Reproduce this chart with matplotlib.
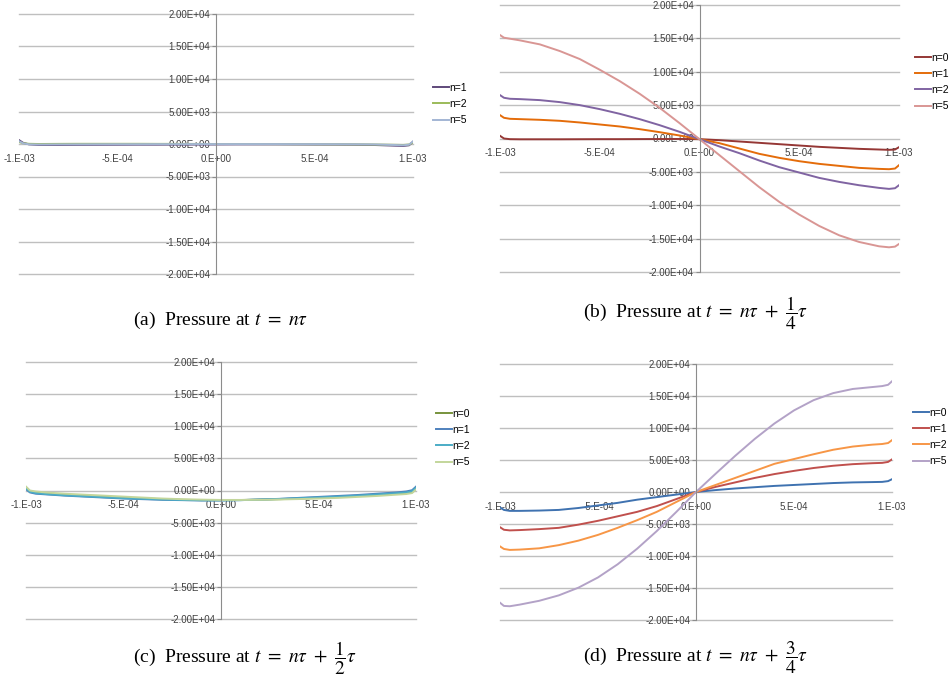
import matplotlib
matplotlib.use('Agg')
import matplotlib.pyplot as plt
from matplotlib.ticker import FuncFormatter

plt.rcParams['font.family'] = ['Liberation Sans Narrow', 'Liberation Sans', 'DejaVu Sans']
plt.rcParams['mathtext.fontset'] = 'stix'

# position (m) and pressure values
x_pos = [-1.0e-3, -9.8e-4, -9.5e-4, -9.0e-4, -8.0e-4, -7.0e-4, -6.0e-4, -5.0e-4, -4.0e-4,
         -3.0e-4, -2.0e-4, -1.0e-4, 0.0, 1.0e-4, 2.0e-4, 3.0e-4, 4.0e-4, 5.0e-4, 6.0e-4,
         7.0e-4, 8.0e-4, 9.0e-4, 9.5e-4, 9.8e-4, 1.0e-3]

x_ticks = [-1e-3, -5e-4, 0.0, 5e-4, 1e-3]
y_ticks = [-20000, -15000, -10000, -5000, 0, 5000, 10000, 15000, 20000]

# (a) t = n tau
a_names = ['n=1', 'n=2', 'n=5']
a_n1 = [600, 200, -50, -150, -150, -130, -120, -110, -100, -100, -90, -80, -70, -60, -60, -60, -70, -80, -90, -110, -150, -250, -300, -200, 350]
a_n2 = [300, 120, 30, 0, 20, 30, 30, 30, 30, 20, 20, 10, 0, 0, -10, -20, -30, -40, -50, -60, -80, -120, -150, -80, 250]
a_n5 = [450, 100, -50, -80, -60, -50, -40, -30, -30, -20, -20, -10, -10, -10, -10, -10, -20, -20, -30, -40, -60, -150, -200, -100, 400]

# (b) t = n tau + tau/4
b_names = ['n=0', 'n=1', 'n=2', 'n=5']
b_n0 = [400, 0, -100, -120, -120, -120, -110, -100, -100, -90, -80, -70, -100, -250, -450, -650, -850, -1050, -1250, -1400, -1550, -1650, -1700, -1650, -1300]
b_n1 = [3500, 3100, 2950, 2900, 2800, 2650, 2400, 2100, 1800, 1400, 950, 450, -100, -700, -1500, -2300, -2900, -3400, -3800, -4100, -4400, -4550, -4600, -4500, -4000]
b_n2 = [6500, 6100, 5950, 5900, 5750, 5450, 5000, 4400, 3700, 2900, 2000, 1000, -100, -1200, -2200, -3300, -4300, -5100, -5900, -6500, -7000, -7400, -7550, -7450, -7000]
b_n5 = [15500, 15100, 14950, 14700, 14100, 13100, 11900, 10300, 8600, 6700, 4600, 2300, -100, -2500, -4900, -7300, -9500, -11400, -13100, -14500, -15500, -16150, -16300, -16200, -15800]

# (c) t = n tau + tau/2
c_names = ['n=0', 'n=1', 'n=2', 'n=5']
c_n0 = [500, -100, -300, -450, -650, -800, -950, -1100, -1250, -1350, -1450, -1500, -1500, -1480, -1420, -1350, -1250, -1150, -1000, -850, -700, -500, -400, -250, 300]
c_n1 = [200, -300, -500, -600, -800, -950, -1100, -1250, -1350, -1450, -1500, -1550, -1550, -1500, -1400, -1300, -1150, -1000, -850, -700, -500, -300, -150, 50, 600]
c_n2 = [350, -200, -400, -550, -750, -900, -1050, -1200, -1300, -1400, -1480, -1520, -1530, -1500, -1420, -1320, -1200, -1080, -950, -800, -620, -420, -300, -120, 450]
c_n5 = [600, 0, -150, -300, -500, -650, -800, -950, -1100, -1250, -1350, -1420, -1470, -1470, -1450, -1400, -1330, -1250, -1150, -1000, -850, -650, -550, -400, 150]

# (d) t = n tau + 3 tau/4
d_names = ['n=0', 'n=1', 'n=2', 'n=5']
d_n0 = [-2400, -2800, -2950, -2950, -2900, -2800, -2500, -2100, -1700, -1200, -800, -400, 0, 300, 550, 750, 950, 1100, 1250, 1400, 1500, 1550, 1580, 1700, 2000]
d_n1 = [-5500, -5900, -6000, -5950, -5800, -5600, -5100, -4500, -3800, -3100, -2200, -1100, 0, 800, 1500, 2200, 2800, 3300, 3750, 4100, 4350, 4500, 4550, 4700, 5100]
d_n2 = [-8500, -8900, -9050, -9000, -8800, -8300, -7600, -6700, -5600, -4400, -3100, -1550, 0, 1100, 2200, 3300, 4400, 5150, 5900, 6600, 7100, 7400, 7500, 7650, 8100]
d_n5 = [-17300, -17800, -17850, -17600, -17000, -16150, -14950, -13350, -11300, -8850, -6100, -3100, 0, 2850, 5650, 8300, 10700, 12750, 14350, 15450, 16100, 16400, 16550, 16750, 17300]

W, H = 949.0, 679.0
fig = plt.figure(figsize=(9.49, 6.79), dpi=100)


def draw_panel(box, series, names, colors, leg_pos, caption, cap_pos):
    x0, y0, x1, y1 = box
    ax = fig.add_axes([x0 / W, 1 - y1 / H, (x1 - x0) / W, (y1 - y0) / H])
    for vals, name, c in zip(series, names, colors):
        ax.plot(x_pos, vals, color=c, lw=1.4, label=name)
    ax.set_xlim(-1e-3, 1e-3)
    ax.set_ylim(-2e4, 2e4)
    ax.set_xticks(x_ticks)
    ax.set_yticks(y_ticks)
    ax.xaxis.set_major_formatter(FuncFormatter(lambda v, p: '%#.0E' % v))
    ax.yaxis.set_major_formatter(FuncFormatter(lambda v, p: '%.2E' % v))
    ax.spines['left'].set_position(('data', 0))
    ax.spines['left'].set_color('#8c8c8c')
    ax.spines['bottom'].set_position(('data', 0))
    ax.spines['bottom'].set_visible(False)
    ax.spines['top'].set_visible(False)
    ax.spines['right'].set_visible(False)
    ax.set_axisbelow(True)
    ax.grid(axis='y', color='#bfbfbf', lw=1.0)
    for gl in ax.get_ygridlines():
        gl.set_clip_on(False)
    ax.tick_params(axis='y', direction='out', length=3, color='#8c8c8c',
                   labelsize=7, labelcolor='#404040', pad=1)
    ax.tick_params(axis='x', length=0, labelsize=7, labelcolor='#404040', pad=7)
    ax.legend(loc='center left', bbox_to_anchor=(leg_pos[0] / W, 1 - leg_pos[1] / H),
              bbox_transform=fig.transFigure, frameon=False, fontsize=7.5,
              handlelength=1.5, handletextpad=0.1, labelspacing=0.6,
              borderpad=0, borderaxespad=0)
    fig.text(cap_pos[0] / W, 1 - cap_pos[1] / H, caption, family='Liberation Serif',
             fontsize=14, ha='left', va='baseline')
    return ax


draw_panel((19, 14, 413, 274), [a_n1, a_n2, a_n5], a_names,
           ['#5f497a', '#9bbb59', '#a3b6d4'], (433, 104),
           r'(a)  Pressure at $t\ =\ n\tau$', (133, 325))
draw_panel((500, 5, 899, 272), [b_n0, b_n1, b_n2, b_n5], b_names,
           ['#953735', '#e46c0a', '#8064a2', '#d99694'], (915, 82),
           r'(b)  Pressure at $t\ =\ n\tau\ +\ \dfrac{1}{4}\tau$', (583, 319))
draw_panel((26, 362, 416, 619), [c_n0, c_n1, c_n2, c_n5], c_names,
           ['#77933c', '#4f81bd', '#4bacc6', '#c3d69b'], (436, 438),
           r'(c)  Pressure at $t\ =\ n\tau\ +\ \dfrac{1}{2}\tau$', (133, 664))
draw_panel((500, 364, 892, 620), [d_n0, d_n1, d_n2, d_n5], d_names,
           ['#3f72b0', '#c0504d', '#f79646', '#b3a2c7'], (913, 437),
           r'(d)  Pressure at $t\ =\ n\tau\ +\ \dfrac{3}{4}\tau$', (583, 663))

fig.savefig('out.png', dpi=100)
